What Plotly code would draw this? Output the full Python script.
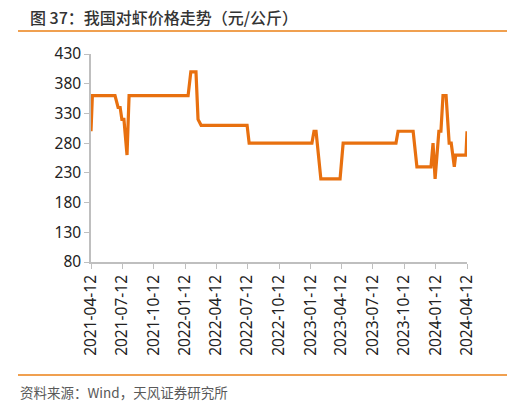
import plotly.graph_objects as go

# 对虾价格（元/公斤），读自原图
dates = [
    "2021-04-12", "2021-04-16", "2021-06-21", "2021-06-30", "2021-07-06",
    "2021-07-11", "2021-07-17", "2021-07-26", "2021-08-01", "2022-01-20",
    "2022-01-28", "2022-02-12", "2022-02-18", "2022-02-27", "2022-07-11",
    "2022-07-17", "2023-01-16", "2023-01-22", "2023-01-28", "2023-02-11",
    "2023-04-08", "2023-04-17", "2023-09-18", "2023-09-24", "2023-11-07",
    "2023-11-18", "2023-12-29", "2024-01-04", "2024-01-10", "2024-01-21",
    "2024-01-27", "2024-02-02", "2024-02-11", "2024-02-20", "2024-02-26",
    "2024-03-06", "2024-03-10", "2024-04-09", "2024-04-12",
]
prices = [
    300, 360, 360, 340, 340,
    320, 320, 260, 360, 360,
    400, 400, 320, 310, 310,
    280, 280, 300, 300, 220,
    220, 280, 280, 300, 300,
    240, 240, 280, 220, 300,
    300, 360, 360, 280, 280,
    240, 260, 260, 300,
]

tick_dates = [
    "2021-04-12", "2021-07-12", "2021-10-12", "2022-01-12", "2022-04-12",
    "2022-07-12", "2022-10-12", "2023-01-12", "2023-04-12", "2023-07-12",
    "2023-10-12", "2024-01-12", "2024-04-12",
]
y_ticks = [80, 130, 180, 230, 280, 330, 380, 430]

title_text = "图 37：我国对虾价格走势（元/公斤）"
source_text = "资料来源：Wind，天风证券研究所"

fig = go.Figure()
fig.add_trace(go.Scatter(
    x=dates, y=prices, mode="lines",
    line=dict(color="#E8700F", width=3.2),
    showlegend=False,
))

axis_font = dict(family="Noto Sans, DejaVu Sans, sans-serif", size=15.5, color="#222222")

fig.update_layout(
    width=512, height=404,
    margin=dict(l=91, r=45, t=54, b=142),
    paper_bgcolor="white", plot_bgcolor="white",
    xaxis=dict(
        type="date",
        range=["2021-04-12", "2024-04-12"],
        tickvals=tick_dates, ticktext=tick_dates,
        tickangle=-90,
        tickfont=axis_font,
        showgrid=False, zeroline=False,
        showline=True, linecolor="#BFBFBF", linewidth=1.5,
        ticks="outside", ticklen=5, tickcolor="#BFBFBF",
    ),
    yaxis=dict(
        range=[80, 430],
        tickvals=y_ticks,
        tickfont=axis_font,
        showgrid=False, zeroline=False,
        showline=True, linecolor="#BFBFBF", linewidth=1.5,
        ticks="outside", ticklen=5, tickcolor="#BFBFBF",
    ),
)

# title and footer, placed in pixels converted to paper coords
fig.add_annotation(
    text=title_text, xref="paper", yref="paper",
    x=(28 - 91) / 376, y=(262 - 17) / 208, xanchor="left", yanchor="middle",
    showarrow=False,
    font=dict(family="Noto Sans CJK SC", size=16, color="#333333", weight=500),
)
fig.add_annotation(
    text=source_text, xref="paper", yref="paper",
    x=(18 - 91) / 376, y=(262 - 392) / 208, xanchor="left", yanchor="middle",
    showarrow=False,
    font=dict(family="Noto Sans CJK SC", size=13.5, color="#595959"),
)
for py in (31, 375):
    fig.add_shape(
        type="line", xref="paper", yref="paper",
        x0=(18 - 91) / 376, x1=(507 - 91) / 376,
        y0=(262 - py) / 208, y1=(262 - py) / 208,
        line=dict(color="#F0A050", width=2),
    )

# drop the browser's default body margin so the figure sits at (0, 0)
fig.write_html(
    "out.html",
    config={"displayModeBar": False},
    post_script="document.body.style.margin='0';",
)
